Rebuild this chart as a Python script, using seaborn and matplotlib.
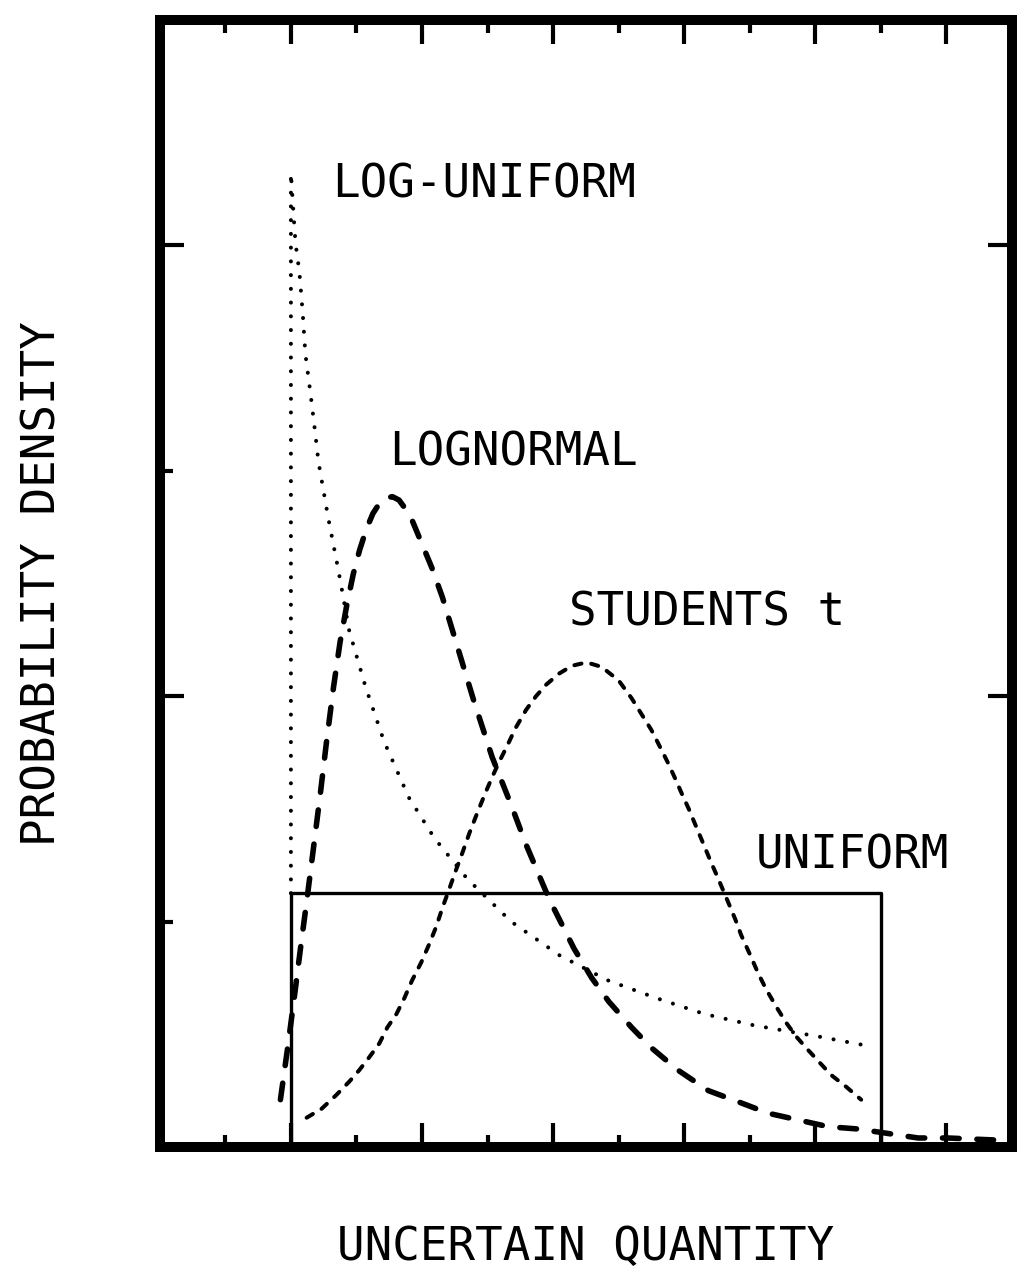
import matplotlib
matplotlib.use("Agg")
import matplotlib.pyplot as plt
import seaborn as sns

# valores (unidades arbitrárias)
uniform_x = [2.0, 2.0, 11.0, 11.0]
uniform_y = [0.0, 1.126, 1.126, 0.0]

loguniform_x = [2.0, 2.0, 2.04, 2.07, 2.13, 2.18, 2.22, 2.30, 2.37, 2.42, 2.57, 2.73,
                2.89, 3.14, 3.42, 3.80, 4.19, 4.69, 5.36, 6.10, 6.83, 7.58, 8.31,
                9.06, 10.05, 10.78]
loguniform_y = [1.126, 4.32, 4.14, 4.01, 3.88, 3.70, 3.52, 3.34, 3.17, 3.04, 2.79, 2.55,
                2.29, 2.04, 1.80, 1.55, 1.37, 1.19, 1.00, 0.85, 0.74, 0.66, 0.59,
                0.54, 0.49, 0.45]

lognormal_x = [1.84, 1.95, 2.05, 2.15, 2.25, 2.35, 2.45, 2.54, 2.65, 2.75, 2.85, 2.95,
               3.05, 3.15, 3.25, 3.35, 3.45, 3.55, 3.65, 3.75, 3.85, 3.95, 4.05, 4.15,
               4.31, 4.54, 4.79, 5.07, 5.37, 5.59, 5.94, 6.32, 6.59, 6.85, 7.20, 7.50,
               7.91, 8.37, 8.83, 9.28, 9.74, 10.20, 10.65, 11.11, 11.57, 12.02, 12.83]
lognormal_y = [0.21, 0.44, 0.66, 0.89, 1.11, 1.34, 1.57, 1.79, 2.04, 2.24, 2.40, 2.54,
               2.65, 2.74, 2.81, 2.855, 2.88, 2.885, 2.87, 2.83, 2.78, 2.71, 2.64, 2.57,
               2.44, 2.22, 1.98, 1.73, 1.51, 1.34, 1.10, 0.88, 0.75, 0.645, 0.53, 0.44,
               0.34, 0.25, 0.20, 0.15, 0.12, 0.09, 0.08, 0.06, 0.04, 0.04, 0.03]

student_x = [2.24, 2.47, 2.69, 2.89, 3.04, 3.20, 3.35, 3.47, 3.61, 3.73, 3.85, 3.99,
             4.11, 4.22, 4.31, 4.41, 4.52, 4.61, 4.72, 4.84, 4.98, 5.10, 5.18, 5.30,
             5.43, 5.59, 5.74, 5.89, 6.09, 6.29, 6.51, 6.74, 7.00, 7.20, 7.35, 7.50,
             7.64, 7.76, 7.87, 7.96, 8.07, 8.17, 8.30, 8.40, 8.52, 8.68, 8.78, 8.87,
             9.01, 9.13, 9.25, 9.41, 9.56, 9.71, 9.86, 10.05, 10.24, 10.46, 10.70]
student_y = [0.13, 0.17, 0.23, 0.29, 0.34, 0.40, 0.46, 0.53, 0.59, 0.66, 0.74, 0.82,
             0.90, 0.98, 1.06, 1.14, 1.23, 1.30, 1.39, 1.48, 1.58, 1.66, 1.71, 1.78,
             1.86, 1.94, 2.00, 2.05, 2.10, 2.135, 2.15, 2.13, 2.07, 1.99, 1.92, 1.85,
             1.77, 1.70, 1.63, 1.57, 1.50, 1.43, 1.34, 1.27, 1.19, 1.08, 1.01, 0.94,
             0.85, 0.77, 0.70, 0.62, 0.55, 0.49, 0.44, 0.38, 0.32, 0.27, 0.21]

# rótulos das curvas e posição (coordenadas dos dados)
curve_labels = ["LOG-UNIFORM", "LOGNORMAL", "STUDENTS t", "UNIFORM"]
label_x = [2.63, 3.50, 6.24, 9.09]
label_y = [4.27, 3.08, 2.37, 1.29]

x_major = [2, 4, 6, 8, 10, 12]
x_minor = [1, 3, 5, 7, 9, 11, 13]
y_major = [2, 4]
y_minor = [1, 3]


def plot_distributions(output="out.png"):
    sns.set_style("white")
    plt.rcParams["font.family"] = ["DejaVu Sans Mono", "DejaVu Sans"]

    fig = plt.figure(figsize=(10.18, 12.79), dpi=100)
    ax = fig.add_axes([0.157, 0.1032, 0.837, 0.8812])

    # uniforme (linha contínua)
    sns.lineplot(x=uniform_x, y=uniform_y, ax=ax, sort=False, estimator=None,
                 color="black", linewidth=2.4)
    # log-uniforme (pontilhado)
    sns.lineplot(x=loguniform_x, y=loguniform_y, ax=ax, sort=False, estimator=None,
                 color="black", linewidth=2.9, linestyle=(0, (0.01, 3.4)),
                 dash_capstyle="round")
    # lognormal (tracejado longo)
    sns.lineplot(x=lognormal_x, y=lognormal_y, ax=ax, sort=False, estimator=None,
                 color="black", linewidth=4.0, linestyle=(0, (3.0, 3.2)),
                 dash_capstyle="round")
    # t de student (tracejado curto)
    sns.lineplot(x=student_x, y=student_y, ax=ax, sort=False, estimator=None,
                 color="black", linewidth=2.9, linestyle=(0, (1.8, 2.5)),
                 dash_capstyle="round")

    for txt, tx, ty in zip(curve_labels, label_x, label_y):
        ax.text(tx, ty, txt, fontsize=33, ha="left", va="center", color="black")

    ax.set_xlim(0, 13)
    ax.set_ylim(0, 5)
    ax.set_xticks(x_major)
    ax.set_xticks(x_minor, minor=True)
    ax.set_yticks(y_major)
    ax.set_yticks(y_minor, minor=True)
    ax.tick_params(which="both", direction="in", labelbottom=False, labelleft=False,
                   top=True, bottom=True, left=True, right=True, width=3, color="black")
    ax.tick_params(which="major", length=17)
    ax.tick_params(which="minor", length=9, right=False)

    for spine in ax.spines.values():
        spine.set_linewidth(7.2)
        spine.set_color("black")

    ax.set_xlabel("UNCERTAIN QUANTITY", fontsize=33, labelpad=56, color="black")
    ax.set_ylabel("PROBABILITY DENSITY", fontsize=33, labelpad=68, color="black")

    fig.savefig(output, dpi=100)
    plt.close(fig)


if __name__ == "__main__":
    plot_distributions()
